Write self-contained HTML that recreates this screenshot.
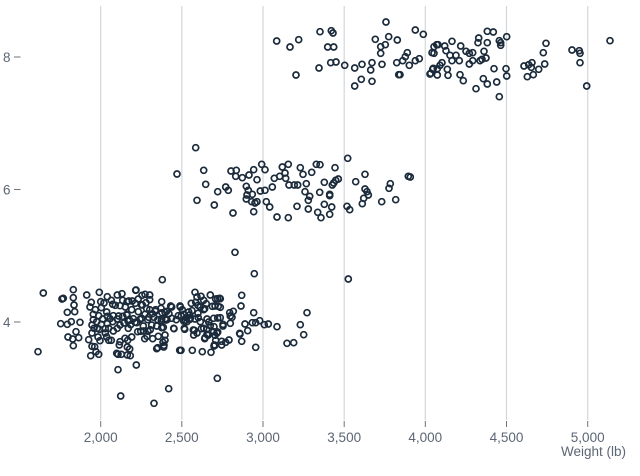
<!DOCTYPE html>
<html><head><meta charset="utf-8"><style>
html,body{margin:0;padding:0;background:#fff;}
svg{display:block;font-family:"Liberation Sans",sans-serif;}
.g line{stroke:#d3d6da;stroke-width:1.2}
.t line{stroke:#6b7480;stroke-width:1}
.lab{fill:#5c6674;font-size:13.5px}
.p circle{fill:none;stroke:#1b2b3b;stroke-width:1.7}
</style></head><body>
<svg width="640" height="476" viewBox="0 0 640 476" xmlns="http://www.w3.org/2000/svg">
<rect width="640" height="476" fill="#fff"/>
<g class="g">
<line x1="100.7" x2="100.7" y1="6" y2="420"/>
<line x1="181.8" x2="181.8" y1="6" y2="420"/>
<line x1="263" x2="263" y1="6" y2="420"/>
<line x1="344.2" x2="344.2" y1="6" y2="420"/>
<line x1="425.3" x2="425.3" y1="6" y2="420"/>
<line x1="506.5" x2="506.5" y1="6" y2="420"/>
<line x1="587.7" x2="587.7" y1="6" y2="420"/>
</g>
<g class="t">
<line x1="100.7" x2="100.7" y1="421" y2="427"/>
<line x1="181.8" x2="181.8" y1="421" y2="427"/>
<line x1="263" x2="263" y1="421" y2="427"/>
<line x1="344.2" x2="344.2" y1="421" y2="427"/>
<line x1="425.3" x2="425.3" y1="421" y2="427"/>
<line x1="506.5" x2="506.5" y1="421" y2="427"/>
<line x1="587.7" x2="587.7" y1="421" y2="427"/>
<line x1="14" x2="20.5" y1="57" y2="57"/>
<line x1="14" x2="20.5" y1="189.5" y2="189.5"/>
<line x1="14" x2="20.5" y1="322" y2="322"/>
</g>
<g class="lab" text-anchor="middle">
<text x="100.7" y="442">2,000</text>
<text x="181.8" y="442">2,500</text>
<text x="263" y="442">3,000</text>
<text x="344.2" y="442">3,500</text>
<text x="425.3" y="442">4,000</text>
<text x="506.5" y="442">4,500</text>
<text x="587.7" y="442">5,000</text>
</g>
<g class="lab" text-anchor="end">
<text x="626" y="456">Weight (lb)</text>
<text x="10.5" y="62">8</text>
<text x="10.5" y="194.5">6</text>
<text x="10.5" y="327">4</text>
</g>
<g class="p">
<circle cx="276.7" cy="41" r="3"/><circle cx="290" cy="47" r="3"/><circle cx="298.7" cy="39.7" r="3"/><circle cx="296" cy="75" r="3"/><circle cx="320" cy="31.7" r="3"/><circle cx="331.3" cy="30.7" r="3"/><circle cx="333" cy="33" r="3"/><circle cx="327.7" cy="47" r="3"/><circle cx="333.7" cy="47" r="3"/><circle cx="319" cy="68" r="3"/><circle cx="330.7" cy="62.7" r="3"/><circle cx="336" cy="62" r="3"/><circle cx="344.7" cy="65.3" r="3"/><circle cx="354.7" cy="68" r="3"/><circle cx="362" cy="64.3" r="3"/><circle cx="372" cy="62.7" r="3"/><circle cx="370.7" cy="70" r="3"/><circle cx="361.3" cy="79.3" r="3"/><circle cx="354.7" cy="86" r="3"/><circle cx="372" cy="81.3" r="3"/><circle cx="382" cy="64.3" r="3"/><circle cx="386" cy="22" r="3"/><circle cx="375.3" cy="39.3" r="3"/><circle cx="388.7" cy="36.7" r="3"/><circle cx="397.3" cy="40" r="3"/><circle cx="380.7" cy="46.7" r="3"/><circle cx="385.3" cy="44.7" r="3"/><circle cx="380.7" cy="53.3" r="3"/><circle cx="396.7" cy="62.7" r="3"/><circle cx="400" cy="74.7" r="3"/><circle cx="398.7" cy="74.7" r="3"/><circle cx="402.7" cy="60.7" r="3"/><circle cx="405.3" cy="56.7" r="3"/><circle cx="407.3" cy="52.7" r="3"/><circle cx="409.3" cy="65.3" r="3"/><circle cx="415.3" cy="60.7" r="3"/><circle cx="419.3" cy="58.7" r="3"/><circle cx="415.3" cy="30" r="3"/><circle cx="423.3" cy="34.3" r="3"/><circle cx="432" cy="52.7" r="3"/><circle cx="434" cy="46.7" r="3"/><circle cx="436.7" cy="44.7" r="3"/><circle cx="430.7" cy="73.3" r="3"/><circle cx="433.3" cy="68.3" r="3"/><circle cx="437.3" cy="75" r="3"/>
<circle cx="438" cy="44.7" r="3"/><circle cx="434" cy="53.3" r="3"/><circle cx="444.7" cy="46" r="3"/><circle cx="452" cy="41.3" r="3"/><circle cx="446" cy="50.7" r="3"/><circle cx="450" cy="55.3" r="3"/><circle cx="456" cy="55.3" r="3"/><circle cx="460.7" cy="46" r="3"/><circle cx="452" cy="60.7" r="3"/><circle cx="459.3" cy="60.7" r="3"/><circle cx="466" cy="51.3" r="3"/><circle cx="469.3" cy="53.3" r="3"/><circle cx="472.7" cy="52.7" r="3"/><circle cx="478.7" cy="38" r="3"/><circle cx="478" cy="42.7" r="3"/><circle cx="487.3" cy="31.3" r="3"/><circle cx="493.3" cy="32" r="3"/><circle cx="487.3" cy="42.7" r="3"/><circle cx="484" cy="51.3" r="3"/><circle cx="486" cy="58" r="3"/><circle cx="482" cy="59.3" r="3"/><circle cx="480" cy="60.7" r="3"/><circle cx="472.7" cy="60.7" r="3"/><circle cx="469.3" cy="64" r="3"/><circle cx="499.3" cy="40.7" r="3"/><circle cx="500.7" cy="42.7" r="3"/><circle cx="500.7" cy="45.3" r="3"/><circle cx="506.7" cy="36.7" r="3"/><circle cx="442" cy="62.7" r="3"/><circle cx="440" cy="65.3" r="3"/><circle cx="437.3" cy="68.7" r="3"/><circle cx="432.7" cy="69.3" r="3"/><circle cx="430" cy="74" r="3"/><circle cx="447.3" cy="69.3" r="3"/><circle cx="448" cy="75.3" r="3"/><circle cx="460" cy="74.7" r="3"/><circle cx="463.3" cy="80.7" r="3"/><circle cx="476" cy="88.7" r="3"/><circle cx="483.3" cy="78.7" r="3"/><circle cx="487.3" cy="84" r="3"/><circle cx="496.7" cy="82" r="3"/><circle cx="494" cy="68.7" r="3"/><circle cx="506" cy="68.7" r="3"/><circle cx="506.7" cy="76" r="3"/><circle cx="499.3" cy="96.7" r="3"/><circle cx="524" cy="66" r="3"/><circle cx="528.7" cy="64.7" r="3"/><circle cx="532" cy="62.7" r="3"/><circle cx="531.3" cy="67.3" r="3"/><circle cx="538.7" cy="69.3" r="3"/><circle cx="527.3" cy="76.7" r="3"/><circle cx="533.3" cy="74.7" r="3"/><circle cx="544.7" cy="64" r="3"/><circle cx="543.3" cy="52.7" r="3"/><circle cx="546" cy="43.3" r="3"/><circle cx="572" cy="50" r="3"/><circle cx="579.3" cy="50.7" r="3"/><circle cx="580" cy="53.3" r="3"/><circle cx="580" cy="62.7" r="3"/><circle cx="586.7" cy="86" r="3"/><circle cx="610" cy="40.7" r="3"/>
<circle cx="195.7" cy="147.7" r="3"/><circle cx="177" cy="174" r="3"/><circle cx="203.7" cy="170.3" r="3"/><circle cx="205.7" cy="184.3" r="3"/><circle cx="197" cy="200.3" r="3"/><circle cx="214.3" cy="205" r="3"/><circle cx="217.7" cy="191.7" r="3"/><circle cx="225.7" cy="187" r="3"/><circle cx="228.3" cy="190.3" r="3"/><circle cx="231" cy="171" r="3"/><circle cx="236.3" cy="170.3" r="3"/><circle cx="235.7" cy="176.3" r="3"/><circle cx="242.3" cy="177.7" r="3"/><circle cx="249" cy="175" r="3"/><circle cx="253.7" cy="169.7" r="3"/><circle cx="261.7" cy="164.3" r="3"/><circle cx="265" cy="169.7" r="3"/><circle cx="257" cy="179.7" r="3"/><circle cx="246.3" cy="186.3" r="3"/><circle cx="248.3" cy="190.3" r="3"/><circle cx="247" cy="195" r="3"/><circle cx="252.3" cy="194.3" r="3"/><circle cx="246.3" cy="199" r="3"/><circle cx="251.7" cy="201.7" r="3"/><circle cx="255" cy="203" r="3"/><circle cx="257" cy="201.7" r="3"/><circle cx="260.3" cy="191" r="3"/><circle cx="265" cy="190.3" r="3"/><circle cx="266.3" cy="201.7" r="3"/><circle cx="269.7" cy="207" r="3"/><circle cx="253.7" cy="211.7" r="3"/><circle cx="233" cy="213" r="3"/><circle cx="272.3" cy="187" r="3"/><circle cx="274.3" cy="178.3" r="3"/><circle cx="279.7" cy="176.3" r="3"/><circle cx="282.3" cy="167" r="3"/><circle cx="288.3" cy="164.3" r="3"/><circle cx="285" cy="173" r="3"/><circle cx="285.7" cy="178.3" r="3"/><circle cx="289" cy="185" r="3"/><circle cx="294.3" cy="185" r="3"/><circle cx="297.7" cy="185" r="3"/><circle cx="300.3" cy="167.7" r="3"/><circle cx="303" cy="174.3" r="3"/><circle cx="311.7" cy="172.3" r="3"/><circle cx="316.3" cy="164.3" r="3"/><circle cx="306.3" cy="183.7" r="3"/><circle cx="305" cy="191.7" r="3"/><circle cx="309.7" cy="196.3" r="3"/><circle cx="308.3" cy="200.3" r="3"/><circle cx="277" cy="217" r="3"/><circle cx="288.3" cy="217.7" r="3"/><circle cx="297" cy="206.3" r="3"/><circle cx="308.3" cy="209" r="3"/><circle cx="317.7" cy="212.3" r="3"/><circle cx="321" cy="217.7" r="3"/><circle cx="329.7" cy="214.3" r="3"/><circle cx="324.3" cy="204.3" r="3"/><circle cx="331.7" cy="207" r="3"/><circle cx="319.7" cy="192.3" r="3"/><circle cx="324.3" cy="182.3" r="3"/><circle cx="329.7" cy="194.3" r="3"/><circle cx="329.7" cy="195.7" r="3"/><circle cx="332.3" cy="185" r="3"/><circle cx="333.7" cy="183" r="3"/><circle cx="335.7" cy="180.3" r="3"/><circle cx="338.3" cy="179" r="3"/><circle cx="335" cy="167.7" r="3"/><circle cx="347.7" cy="158.3" r="3"/><circle cx="347" cy="206.3" r="3"/><circle cx="349.7" cy="209.7" r="3"/><circle cx="355.7" cy="181.7" r="3"/><circle cx="365" cy="174.3" r="3"/><circle cx="365" cy="189" r="3"/><circle cx="367" cy="191.7" r="3"/><circle cx="368.3" cy="195" r="3"/><circle cx="362.3" cy="203.7" r="3"/><circle cx="363.7" cy="198.3" r="3"/><circle cx="381.7" cy="201.7" r="3"/><circle cx="390.3" cy="183.7" r="3"/><circle cx="389" cy="188.3" r="3"/><circle cx="395.7" cy="199.7" r="3"/><circle cx="408.3" cy="176.3" r="3"/><circle cx="410.3" cy="177" r="3"/><circle cx="320" cy="164.7" r="3"/>
<circle cx="235" cy="252.3" r="3"/><circle cx="254.3" cy="273.7" r="3"/><circle cx="348.3" cy="279" r="3"/>
<circle cx="43.3" cy="293" r="3"/><circle cx="62" cy="299" r="3"/><circle cx="63.3" cy="298.3" r="3"/><circle cx="73.3" cy="289.7" r="3"/><circle cx="73.3" cy="297.7" r="3"/><circle cx="74" cy="305" r="3"/><circle cx="86.7" cy="295" r="3"/><circle cx="99.3" cy="292.3" r="3"/><circle cx="67.3" cy="312.3" r="3"/><circle cx="74.7" cy="311.7" r="3"/><circle cx="60.7" cy="323.7" r="3"/><circle cx="67.3" cy="324.3" r="3"/><circle cx="71.3" cy="321.7" r="3"/><circle cx="80" cy="322.3" r="3"/><circle cx="68" cy="337" r="3"/><circle cx="72.7" cy="339" r="3"/><circle cx="78.7" cy="337.7" r="3"/><circle cx="76" cy="331.7" r="3"/><circle cx="73.3" cy="345.7" r="3"/><circle cx="38" cy="351.7" r="3"/><circle cx="91.3" cy="302.3" r="3"/><circle cx="90" cy="307" r="3"/><circle cx="95.3" cy="309.7" r="3"/><circle cx="101.3" cy="307.7" r="3"/><circle cx="100.7" cy="301.7" r="3"/><circle cx="104" cy="303" r="3"/><circle cx="111.3" cy="300.3" r="3"/><circle cx="112.7" cy="304.3" r="3"/><circle cx="117.3" cy="295" r="3"/><circle cx="122" cy="293.7" r="3"/><circle cx="122.7" cy="300.3" r="3"/><circle cx="120" cy="305.7" r="3"/><circle cx="128.7" cy="301" r="3"/><circle cx="125.3" cy="307" r="3"/><circle cx="93.3" cy="314.3" r="3"/><circle cx="98.7" cy="315.7" r="3"/><circle cx="93.3" cy="319.7" r="3"/><circle cx="96.7" cy="321.7" r="3"/><circle cx="92" cy="325" r="3"/><circle cx="97.3" cy="328.3" r="3"/><circle cx="101.3" cy="324.3" r="3"/><circle cx="102.7" cy="319" r="3"/><circle cx="107.3" cy="316.3" r="3"/><circle cx="107.3" cy="323.7" r="3"/><circle cx="108.7" cy="328.3" r="3"/><circle cx="112.7" cy="321.7" r="3"/><circle cx="113.3" cy="315.7" r="3"/><circle cx="117.3" cy="319" r="3"/><circle cx="120" cy="325" r="3"/><circle cx="117.3" cy="328.3" r="3"/><circle cx="124" cy="323" r="3"/><circle cx="128" cy="321" r="3"/><circle cx="126.7" cy="314.3" r="3"/><circle cx="122.7" cy="316.3" r="3"/><circle cx="88.7" cy="339.7" r="3"/><circle cx="92" cy="346.3" r="3"/><circle cx="96" cy="351.7" r="3"/><circle cx="98.7" cy="354.3" r="3"/><circle cx="90.7" cy="355.7" r="3"/><circle cx="108.7" cy="340.3" r="3"/><circle cx="111.3" cy="340.3" r="3"/><circle cx="120" cy="341.7" r="3"/><circle cx="119.3" cy="345" r="3"/><circle cx="121.3" cy="354.3" r="3"/><circle cx="118" cy="354.3" r="3"/><circle cx="127.3" cy="347" r="3"/><circle cx="127.3" cy="355" r="3"/><circle cx="118" cy="369.7" r="3"/><circle cx="92" cy="333" r="3"/><circle cx="98" cy="337" r="3"/><circle cx="105.3" cy="333" r="3"/><circle cx="106.7" cy="337" r="3"/><circle cx="113.3" cy="331" r="3"/>
<circle cx="107.3" cy="296.7" r="3"/><circle cx="115.3" cy="305.3" r="3"/><circle cx="106.7" cy="312" r="3"/><circle cx="110" cy="318.7" r="3"/><circle cx="105.3" cy="328.7" r="3"/><circle cx="118.7" cy="316" r="3"/><circle cx="94" cy="328.3" r="3"/><circle cx="99.3" cy="329.3" r="3"/><circle cx="100" cy="340.7" r="3"/><circle cx="94.7" cy="346.7" r="3"/><circle cx="116.7" cy="353.3" r="3"/>
<circle cx="162.3" cy="279.7" r="3"/><circle cx="135.7" cy="290.3" r="3"/><circle cx="138.3" cy="299" r="3"/><circle cx="145" cy="294.3" r="3"/><circle cx="149.7" cy="295" r="3"/><circle cx="149.7" cy="299.7" r="3"/><circle cx="142.3" cy="305" r="3"/><circle cx="132.3" cy="301" r="3"/><circle cx="127" cy="301.7" r="3"/><circle cx="155.7" cy="309.7" r="3"/><circle cx="161.7" cy="301.7" r="3"/><circle cx="161" cy="308.3" r="3"/><circle cx="165" cy="312.3" r="3"/><circle cx="169" cy="313.7" r="3"/><circle cx="171.7" cy="307" r="3"/><circle cx="180.3" cy="307" r="3"/><circle cx="182.3" cy="309.7" r="3"/><circle cx="183.7" cy="314.3" r="3"/><circle cx="178.3" cy="315.7" r="3"/><circle cx="186.3" cy="317.7" r="3"/><circle cx="189.7" cy="315" r="3"/><circle cx="195" cy="292.3" r="3"/><circle cx="197" cy="297" r="3"/><circle cx="195.7" cy="302.3" r="3"/><circle cx="201" cy="296.3" r="3"/><circle cx="203.7" cy="300.3" r="3"/><circle cx="200.3" cy="307" r="3"/><circle cx="203.7" cy="309.7" r="3"/><circle cx="210.3" cy="295" r="3"/><circle cx="215.7" cy="299" r="3"/><circle cx="219.7" cy="298.3" r="3"/><circle cx="212.3" cy="306.3" r="3"/><circle cx="218.3" cy="306.3" r="3"/><circle cx="206.3" cy="303.7" r="3"/><circle cx="127" cy="315" r="3"/><circle cx="131.7" cy="309.7" r="3"/><circle cx="138.3" cy="311.7" r="3"/><circle cx="145" cy="314.3" r="3"/><circle cx="149.7" cy="309.7" r="3"/><circle cx="152.3" cy="313.7" r="3"/><circle cx="129.7" cy="320.3" r="3"/><circle cx="135" cy="322.3" r="3"/><circle cx="141.7" cy="318.3" r="3"/><circle cx="147.7" cy="319.7" r="3"/><circle cx="151.7" cy="325" r="3"/><circle cx="157.7" cy="319.7" r="3"/><circle cx="161.7" cy="319" r="3"/><circle cx="167" cy="319.7" r="3"/><circle cx="171.7" cy="318.3" r="3"/><circle cx="176.3" cy="319.7" r="3"/><circle cx="183.7" cy="321" r="3"/><circle cx="190.3" cy="318.3" r="3"/><circle cx="195" cy="319" r="3"/><circle cx="198.3" cy="317.7" r="3"/><circle cx="200.3" cy="321.7" r="3"/><circle cx="207" cy="319" r="3"/><circle cx="213.7" cy="318.3" r="3"/><circle cx="220.3" cy="317.7" r="3"/><circle cx="223" cy="324.3" r="3"/><circle cx="128.3" cy="328.3" r="3"/><circle cx="131.7" cy="337" r="3"/><circle cx="137.7" cy="331.7" r="3"/><circle cx="143.7" cy="331" r="3"/><circle cx="147" cy="336.3" r="3"/><circle cx="150.3" cy="329.7" r="3"/><circle cx="158.3" cy="336.3" r="3"/><circle cx="161.7" cy="327.7" r="3"/><circle cx="165" cy="335" r="3"/><circle cx="173.7" cy="328.3" r="3"/><circle cx="184.3" cy="328.3" r="3"/><circle cx="187" cy="321.7" r="3"/><circle cx="194.3" cy="330.3" r="3"/><circle cx="193.7" cy="335" r="3"/><circle cx="197" cy="333" r="3"/><circle cx="203.7" cy="328.3" r="3"/><circle cx="205" cy="337.7" r="3"/><circle cx="207" cy="334.3" r="3"/><circle cx="210.3" cy="325.7" r="3"/><circle cx="213.7" cy="331.7" r="3"/><circle cx="217" cy="333" r="3"/><circle cx="215.7" cy="340.3" r="3"/><circle cx="129.7" cy="349" r="3"/><circle cx="130.3" cy="355.7" r="3"/><circle cx="136.3" cy="365" r="3"/><circle cx="157.7" cy="347.7" r="3"/><circle cx="163" cy="342.3" r="3"/><circle cx="163.7" cy="347" r="3"/><circle cx="165" cy="340.3" r="3"/><circle cx="179.7" cy="350.3" r="3"/><circle cx="181" cy="350.3" r="3"/><circle cx="192.3" cy="350.3" r="3"/><circle cx="202.3" cy="351.7" r="3"/><circle cx="211" cy="352.3" r="3"/><circle cx="214.3" cy="345" r="3"/><circle cx="221.7" cy="345" r="3"/><circle cx="225.7" cy="342.3" r="3"/><circle cx="125" cy="338.3" r="3"/><circle cx="127.7" cy="340.3" r="3"/>
<circle cx="136" cy="290" r="3"/><circle cx="142" cy="295.3" r="3"/><circle cx="135.3" cy="303.3" r="3"/><circle cx="141.3" cy="304.7" r="3"/><circle cx="146.7" cy="308.7" r="3"/><circle cx="146" cy="302.7" r="3"/><circle cx="133.3" cy="318.7" r="3"/><circle cx="130.7" cy="324.7" r="3"/><circle cx="136.7" cy="322.7" r="3"/><circle cx="140" cy="319.3" r="3"/><circle cx="143.3" cy="326" r="3"/><circle cx="148.7" cy="317.3" r="3"/><circle cx="154" cy="317.3" r="3"/><circle cx="148" cy="331.3" r="3"/><circle cx="144.7" cy="338.7" r="3"/><circle cx="152.7" cy="338.7" r="3"/><circle cx="140.7" cy="331.3" r="3"/><circle cx="155.3" cy="311.3" r="3"/><circle cx="162" cy="312.7" r="3"/><circle cx="161.3" cy="320.7" r="3"/><circle cx="156.7" cy="326" r="3"/><circle cx="165.3" cy="318.7" r="3"/><circle cx="163.3" cy="327.3" r="3"/><circle cx="164" cy="345.3" r="3"/><circle cx="156.7" cy="348.7" r="3"/><circle cx="170.7" cy="306" r="3"/><circle cx="166.7" cy="311.3" r="3"/><circle cx="166" cy="320" r="3"/><circle cx="174" cy="328.7" r="3"/><circle cx="180" cy="306" r="3"/><circle cx="181.3" cy="316" r="3"/><circle cx="188.7" cy="312" r="3"/><circle cx="190" cy="319.3" r="3"/><circle cx="185.3" cy="320.7" r="3"/><circle cx="184.7" cy="329.3" r="3"/><circle cx="191.3" cy="303.3" r="3"/><circle cx="198" cy="305.3" r="3"/><circle cx="192" cy="310.7" r="3"/><circle cx="198" cy="313.3" r="3"/><circle cx="204.7" cy="308.7" r="3"/><circle cx="193.3" cy="330" r="3"/><circle cx="201.3" cy="328.7" r="3"/><circle cx="204.7" cy="338.7" r="3"/><circle cx="208" cy="335.3" r="3"/><circle cx="208.7" cy="322" r="3"/><circle cx="206.7" cy="329.3" r="3"/><circle cx="214" cy="326.7" r="3"/><circle cx="214" cy="346" r="3"/>
<circle cx="241.7" cy="295.3" r="3"/><circle cx="241" cy="306" r="3"/><circle cx="217.7" cy="298.7" r="3"/><circle cx="220.3" cy="298.7" r="3"/><circle cx="220.3" cy="307.3" r="3"/><circle cx="215" cy="306" r="3"/><circle cx="229.7" cy="312.7" r="3"/><circle cx="230.3" cy="316" r="3"/><circle cx="217.7" cy="318" r="3"/><circle cx="230.3" cy="323.3" r="3"/><circle cx="223" cy="326" r="3"/><circle cx="217.7" cy="332" r="3"/><circle cx="215" cy="335.3" r="3"/><circle cx="221.7" cy="341.3" r="3"/><circle cx="229" cy="340" r="3"/><circle cx="239.7" cy="333.3" r="3"/><circle cx="241.7" cy="341.3" r="3"/><circle cx="247.7" cy="330.7" r="3"/><circle cx="245" cy="324" r="3"/><circle cx="252.3" cy="322.7" r="3"/><circle cx="253.7" cy="312.7" r="3"/><circle cx="255.7" cy="322.7" r="3"/><circle cx="259.7" cy="320.7" r="3"/><circle cx="264.3" cy="324.7" r="3"/><circle cx="268.3" cy="324" r="3"/><circle cx="277" cy="326.7" r="3"/><circle cx="255.7" cy="347.3" r="3"/><circle cx="287" cy="343.3" r="3"/><circle cx="293.7" cy="342.7" r="3"/><circle cx="300.3" cy="324.7" r="3"/><circle cx="303.7" cy="334.7" r="3"/><circle cx="307" cy="312.7" r="3"/><circle cx="215" cy="345.3" r="3"/><circle cx="233.3" cy="311.3" r="3"/><circle cx="232" cy="317.3" r="3"/><circle cx="240" cy="334" r="3"/>
<circle cx="120.7" cy="396" r="3"/><circle cx="154" cy="403.3" r="3"/><circle cx="168.7" cy="388.7" r="3"/><circle cx="217.3" cy="378.3" r="3"/>
</g>
</svg>
</body></html>
